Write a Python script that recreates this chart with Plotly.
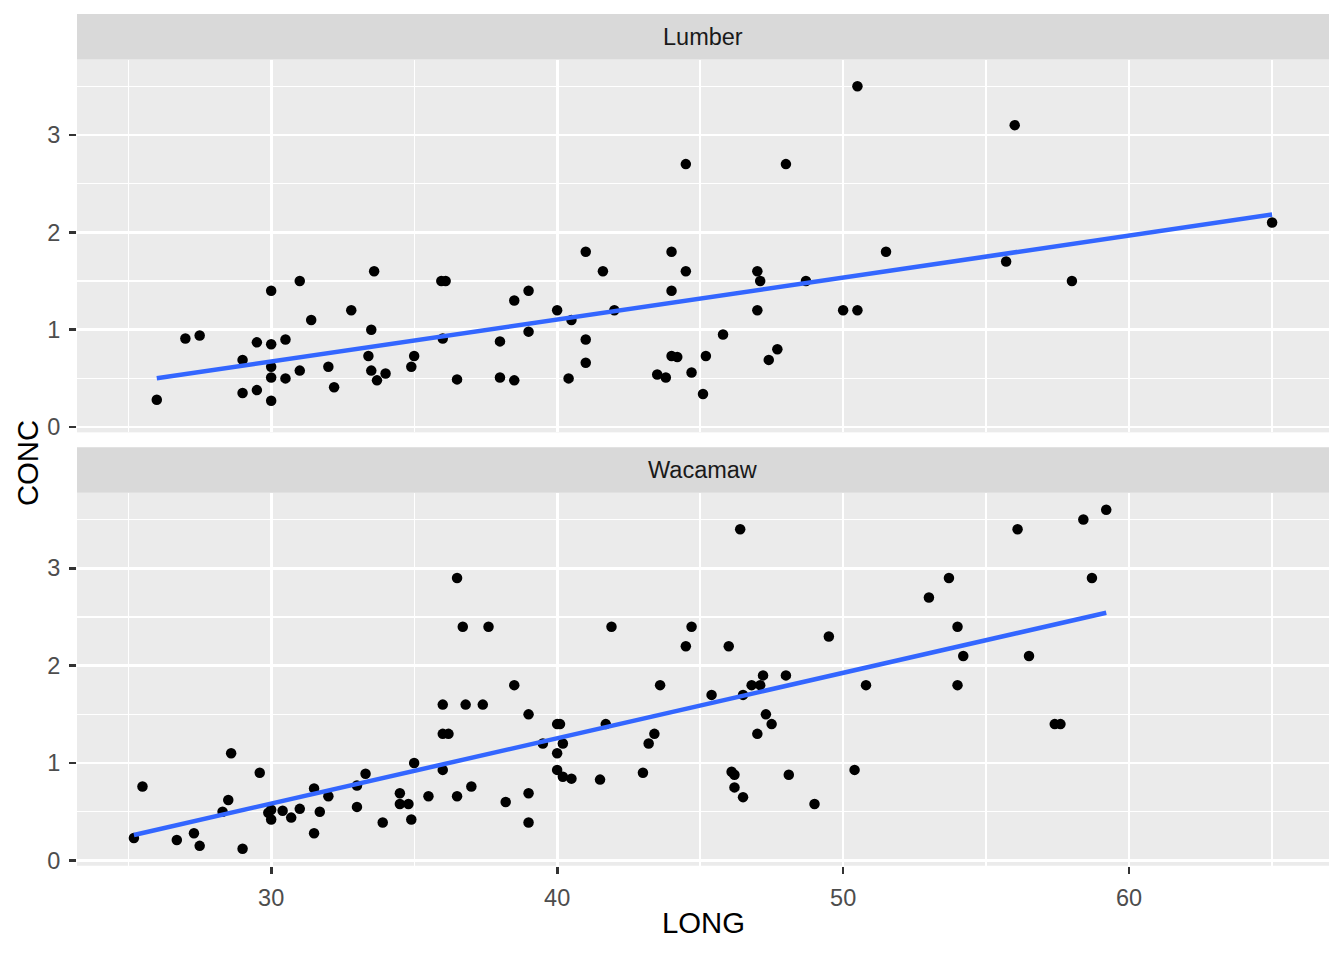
import numpy as np
import plotly.graph_objects as go

# ---- data ----
panels = ["Lumber", "Wacamaw"]

lumber_long = [26, 27, 27.5, 29, 29, 29.5, 29.5, 30, 30, 30, 30, 30, 30.5, 30.5, 31, 31, 31.4, 32, 32.2, 32.8,
               33.6, 33.5, 33.4, 33.5, 33.7, 34, 34.9, 35, 35.95, 36.1, 36, 36.5, 38, 38, 38.5, 38.5, 39, 39, 40,
               40.5, 40.4, 41, 41, 41, 41.6, 42, 43.5, 43.8, 44, 44, 44, 44.2, 44.5, 44.5, 44.7, 45.2, 45.1, 45.8,
               47, 47.1, 47, 47.7, 47.4, 48, 48.7, 50.5, 50, 50.5, 51.5, 56, 55.7, 58, 65]
lumber_conc = [0.28, 0.91, 0.94, 0.69, 0.35, 0.87, 0.38, 1.4, 0.85, 0.62, 0.51, 0.27, 0.9, 0.5, 1.5, 0.58, 1.1,
               0.62, 0.41, 1.2, 1.6, 1.0, 0.73, 0.58, 0.48, 0.55, 0.62, 0.73, 1.5, 1.5, 0.91, 0.49, 0.88, 0.51,
               1.3, 0.48, 1.4, 0.98, 1.2, 1.1, 0.5, 1.8, 0.9, 0.66, 1.6, 1.2, 0.54, 0.51, 1.8, 1.4, 0.73, 0.72,
               2.7, 1.6, 0.56, 0.73, 0.34, 0.95, 1.6, 1.5, 1.2, 0.8, 0.69, 2.7, 1.5, 3.5, 1.2, 1.2, 1.8, 3.1,
               1.7, 1.5, 2.1]

wacamaw_long = [25.2, 25.5, 26.7, 27.3, 27.5, 28.3, 28.5, 28.6, 29, 29.6, 29.9, 30, 30, 30.4, 30.7, 31, 31.5,
                31.5, 31.7, 32, 33, 33, 33.3, 33.9, 34.5, 34.5, 34.8, 34.9, 35, 35.5, 36, 36, 36.2, 36, 36.5,
                36.5, 36.7, 36.8, 37, 37.4, 37.6, 38.2, 38.5, 39, 39, 39, 39.5, 40, 40.1, 40, 40.2, 40, 40.2,
                40.5, 41.5, 41.7, 41.9, 43, 43.2, 43.4, 43.6, 44.5, 44.7, 45.4, 46, 46.4, 46.1, 46.2, 46.2,
                46.5, 46.5, 46.8, 47.1, 47.2, 47.3, 47.5, 47, 48, 48.1, 49, 49.5, 50.4, 50.8, 53, 53.7, 54,
                54, 54.2, 56.1, 56.5, 57.4, 57.6, 58.4, 58.7, 59.2]
wacamaw_conc = [0.23, 0.76, 0.21, 0.28, 0.15, 0.50, 0.62, 1.1, 0.12, 0.90, 0.49, 0.52, 0.42, 0.51, 0.44, 0.53,
                0.74, 0.28, 0.50, 0.66, 0.77, 0.55, 0.89, 0.39, 0.69, 0.58, 0.58, 0.42, 1.0, 0.66, 1.6, 1.3,
                1.3, 0.93, 2.9, 0.66, 2.4, 1.6, 0.76, 1.6, 2.4, 0.60, 1.8, 1.5, 0.69, 0.39, 1.2, 1.4, 1.4, 1.1,
                1.2, 0.93, 0.86, 0.84, 0.83, 1.4, 2.4, 0.90, 1.2, 1.3, 1.8, 2.2, 2.4, 1.7, 2.2, 3.4, 0.91,
                0.88, 0.75, 0.65, 1.7, 1.8, 1.8, 1.9, 1.5, 1.4, 1.3, 1.9, 0.88, 0.58, 2.3, 0.93, 1.8, 2.7,
                2.9, 2.4, 1.8, 2.1, 3.4, 2.1, 1.4, 1.4, 3.5, 2.9, 3.6]

x_ticks = [30, 40, 50, 60]
y_ticks = [0, 1, 2, 3]

# ---- geometry (ggplot-like layout); page margin removed so figure fills the window ----
W, H = 1344, 960
PX_L, PX_R = 77, 1329
top_panel = (60, 436)
bot_panel = (497, 873)
top_strip = (14, 60)
bot_strip = (451, 497)


def fy(px):
    return 1 - px / H


FONT = "Liberation Sans, Arial, sans-serif"

all_x = np.array(lumber_long + wacamaw_long)
all_y = np.array(lumber_conc + wacamaw_conc)
xr = [all_x.min() - 0.05 * np.ptp(all_x), all_x.max() + 0.05 * np.ptp(all_x)]
yr = [all_y.min() - 0.05 * np.ptp(all_y), all_y.max() + 0.05 * np.ptp(all_y)]

fig = go.Figure()

data = [(lumber_long, lumber_conc, "x", "y"), (wacamaw_long, wacamaw_conc, "x2", "y2")]
for (lx, ly, xa, ya) in data:
    fig.add_trace(go.Scatter(x=lx, y=ly, mode="markers", xaxis=xa, yaxis=ya,
                             marker=dict(color="black", size=10.5, line=dict(width=0)),
                             showlegend=False, hoverinfo="skip"))
    b, a = np.polyfit(lx, ly, 1)
    xs = np.linspace(min(lx), max(lx), 80)
    fig.add_trace(go.Scatter(x=xs, y=a + b * xs, mode="lines", xaxis=xa, yaxis=ya,
                             line=dict(color="#3366FF", width=4.5),
                             showlegend=False, hoverinfo="skip"))

tickfont = dict(family=FONT, size=23.5, color="#4D4D4D")
common_x = dict(range=xr, tickvals=x_ticks, showgrid=True, gridcolor="white", gridwidth=2.7,
                zeroline=False, showline=False,
                minor=dict(dtick=5, tick0=25, showgrid=True, gridcolor="white", gridwidth=1.3, ticks=""),
                domain=[PX_L / W, PX_R / W], tickfont=tickfont)
common_y = dict(range=yr, tickvals=y_ticks, showgrid=True, gridcolor="white", gridwidth=2.7,
                zeroline=False, showline=False,
                minor=dict(dtick=0.5, tick0=0, showgrid=True, gridcolor="white", gridwidth=1.3, ticks=""),
                ticks="outside", ticklen=7, tickwidth=2.7, tickcolor="#333333",
                ticklabelstandoff=4, tickfont=tickfont)

fig.update_layout(
    width=W, height=H,
    margin=dict(l=0, r=0, t=0, b=0),
    paper_bgcolor="white", plot_bgcolor="#EBEBEB",
    hovermode=False, dragmode=False,
    xaxis=dict(common_x, anchor="y", matches="x2", showticklabels=False, ticks=""),
    yaxis=dict(common_y, anchor="x", domain=[fy(top_panel[1]), fy(top_panel[0])]),
    xaxis2=dict(common_x, anchor="y2", ticks="outside", ticklen=7, tickwidth=2.7,
                tickcolor="#333333", ticklabelstandoff=4),
    yaxis2=dict(common_y, anchor="x2", domain=[fy(bot_panel[1]), fy(bot_panel[0])]),
)

shapes = []
annotations = []
for name, (s0, s1) in zip(panels, [top_strip, bot_strip]):
    shapes.append(dict(type="rect", xref="paper", yref="paper", x0=PX_L / W, x1=PX_R / W,
                       y0=fy(s1), y1=fy(s0), fillcolor="#D9D9D9", line=dict(width=0), layer="below"))
    annotations.append(dict(text=name, xref="paper", yref="paper", x=(PX_L + PX_R) / 2 / W,
                            y=fy((s0 + s1) / 2), showarrow=False, xanchor="center", yanchor="middle",
                            font=dict(family=FONT, size=23.5, color="#1A1A1A")))

annotations.append(dict(text="LONG", xref="paper", yref="paper", x=(PX_L + PX_R) / 2 / W, y=fy(930),
                        showarrow=False, xanchor="center", yanchor="middle",
                        font=dict(family=FONT, size=29.3, color="black")))
annotations.append(dict(text="CONC", xref="paper", yref="paper", x=27 / W, y=fy(467),
                        showarrow=False, xanchor="center", yanchor="middle", textangle=-90,
                        font=dict(family=FONT, size=29.3, color="black")))

fig.update_layout(shapes=shapes, annotations=annotations)

post_js = ("document.documentElement.style.margin='0';document.documentElement.style.overflow='hidden';"
           "document.body.style.margin='0';document.body.style.padding='0';document.body.style.overflow='hidden';")
fig.write_html("out.html", post_script=post_js,
               config={"displayModeBar": False, "staticPlot": True})
